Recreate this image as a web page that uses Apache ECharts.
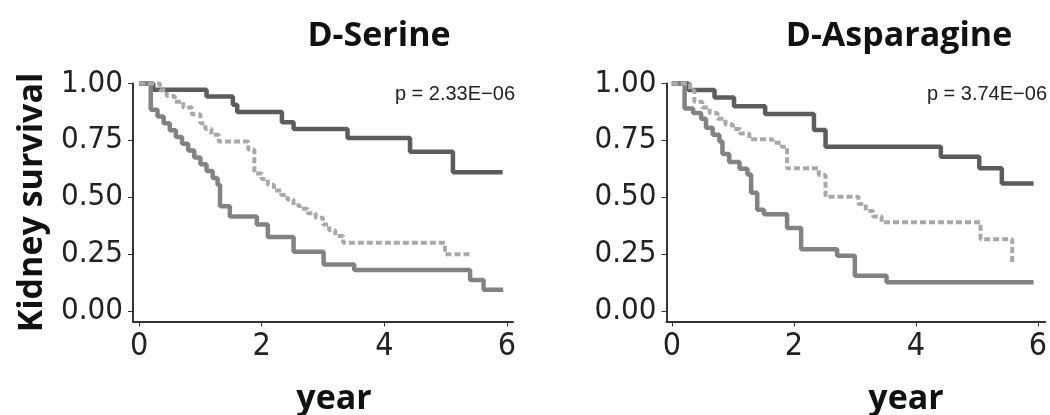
<!DOCTYPE html>
<html>
<head>
<meta charset="utf-8">
<script src="https://cdn.jsdelivr.net/npm/echarts@6/dist/echarts.min.js"></script>
<style>
  html, body { margin: 0; padding: 0; background: #fff; }
  #chart { width: 1050px; height: 415px; }
</style>
</head>
<body>
<div id="chart"></div>
<script>
// 刻度
const xTicks = [0, 2, 4, 6];
const yTicks = [0, 0.25, 0.5, 0.75, 1];

// D-Serine：三组生存曲线（时间 / 生存率）
const serineHighT = [0, 0.23, 1.10, 1.53, 1.60, 2.33, 2.52, 3.40, 4.42, 5.12, 5.93];
const serineHighS = [1, 0.972, 0.943, 0.907, 0.875, 0.83, 0.80, 0.76, 0.70, 0.61, 0.61];
const serineLowT = [0, 0.19, 0.30, 0.40, 0.50, 0.60, 0.70, 0.80, 0.90, 1.00, 1.10, 1.20, 1.28, 1.32, 1.48, 1.92, 2.10, 2.52, 3.01, 3.51, 5.40, 5.62, 5.94];
const serineLowS = [1, 0.885, 0.855, 0.825, 0.795, 0.765, 0.735, 0.705, 0.675, 0.645, 0.615, 0.585, 0.555, 0.46, 0.415, 0.38, 0.325, 0.26, 0.205, 0.18, 0.136, 0.094, 0.094];
const serineMidT = [0, 0.34, 0.45, 0.58, 0.72, 0.86, 1.0, 1.08, 1.18, 1.30, 1.78, 1.88, 2.0, 2.1, 2.2, 2.32, 2.42, 2.52, 2.62, 2.75, 2.88, 3.0, 3.1, 3.2, 3.33, 4.99, 5.43];
const serineMidS = [1, 0.97, 0.945, 0.92, 0.895, 0.865, 0.825, 0.80, 0.775, 0.745, 0.71, 0.605, 0.58, 0.555, 0.53, 0.51, 0.49, 0.465, 0.45, 0.43, 0.41, 0.38, 0.355, 0.33, 0.30, 0.25, 0.25];

// D-Asparagine
const asnHighT = [0, 0.27, 0.70, 1.02, 1.53, 2.33, 2.52, 4.41, 5.04, 5.41, 5.93];
const asnHighS = [1, 0.971, 0.938, 0.90, 0.866, 0.796, 0.722, 0.678, 0.627, 0.561, 0.561];
const asnLowT = [0, 0.21, 0.35, 0.48, 0.56, 0.67, 0.78, 0.83, 0.94, 1.11, 1.24, 1.30, 1.40, 1.51, 1.89, 2.12, 2.71, 3.00, 3.52, 5.93];
const asnLowS = [1, 0.89, 0.87, 0.845, 0.805, 0.775, 0.745, 0.69, 0.655, 0.625, 0.60, 0.52, 0.445, 0.425, 0.365, 0.272, 0.243, 0.155, 0.126, 0.126];
const asnMidT = [0, 0.30, 0.37, 0.50, 0.62, 0.75, 0.88, 1.00, 1.12, 1.27, 1.65, 1.80, 1.89, 2.41, 2.52, 3.06, 3.18, 3.30, 3.44, 5.06, 5.58];
const asnMidS = [1, 0.97, 0.92, 0.895, 0.87, 0.845, 0.82, 0.80, 0.78, 0.755, 0.74, 0.722, 0.627, 0.598, 0.502, 0.47, 0.44, 0.415, 0.39, 0.316, 0.215];

const chart = echarts.init(document.getElementById('chart'));

const tickFont = '"Liberation Sans Narrow", "DejaVu Sans Condensed", sans-serif';
const boldFont = '"Open Sans", sans-serif';
const axisColor = '#333';

function pairs(t, s) {
  return t.map((x, i) => [x, s[i]]);
}

function xAxisOf(gridIndex, min, max) {
  return {
    type: 'value', gridIndex, min, max,
    splitLine: { show: false },
    axisLine: { onZero: false, lineStyle: { color: axisColor, width: 2 } },
    axisTick: { customValues: xTicks, length: 5, lineStyle: { color: axisColor, width: 1 } },
    axisLabel: { customValues: xTicks, margin: 9, fontSize: 32, fontFamily: tickFont, color: '#222' }
  };
}

function yAxisOf(gridIndex, name) {
  return {
    type: 'value', gridIndex, min: -0.046, max: 1,
    name: name || '',
    nameLocation: 'middle',
    nameRotate: 90,
    nameGap: 84,
    nameTextStyle: { fontSize: 34, fontWeight: 'bold', fontFamily: boldFont, color: '#111' },
    splitLine: { show: false },
    axisLine: { onZero: false, lineStyle: { color: axisColor, width: 2 } },
    axisTick: { customValues: yTicks, length: 5, lineStyle: { color: axisColor, width: 1 } },
    axisLabel: {
      customValues: yTicks, margin: 10, fontSize: 31, fontFamily: tickFont, color: '#222',
      formatter: v => v.toFixed(2)
    }
  };
}

// 三种线型：深灰实线 / 中灰实线 / 浅灰虚线
function curve(idx, t, s, kind) {
  const style = {
    high: { color: '#5c5c5c', width: 4.5, type: 'solid' },
    low: { color: '#828282', width: 4.5, type: 'solid' },
    mid: { color: '#a8a8a8', width: 4, type: [6, 3] }
  }[kind];
  return {
    type: 'line', step: 'end', xAxisIndex: idx, yAxisIndex: idx,
    data: pairs(t, s), showSymbol: false, clip: false,
    lineStyle: style, z: kind === 'mid' ? 3 : 2
  };
}

const titleStyle = { fontSize: 34, fontWeight: 'bold', fontFamily: boldFont, color: '#111' };
const pStyle = { fontSize: 20, fontWeight: 'normal', fontFamily: '"Liberation Sans", sans-serif', color: '#222' };

chart.setOption({
  animation: false,
  backgroundColor: '#fff',
  title: [
    { text: 'D-Serine', left: 374, top: 14, textAlign: 'center', textStyle: titleStyle },
    { text: 'D-Asparagine', left: 894, top: 14, textAlign: 'center', textStyle: titleStyle },
    { text: 'year', left: 329, top: 377, textAlign: 'center', textStyle: titleStyle },
    { text: 'year', left: 901, top: 377, textAlign: 'center', textStyle: titleStyle },
    { text: 'p = 2.33E\u221206', left: 510, top: 79, textAlign: 'right', textStyle: pStyle },
    { text: 'p = 3.74E\u221206', left: 1042, top: 79, textAlign: 'right', textStyle: pStyle }
  ],
  grid: [
    { left: 133, top: 83.5, width: 380, height: 238 },
    { left: 666.5, top: 83.5, width: 381.5, height: 238 }
  ],
  xAxis: [xAxisOf(0, -0.1, 6.1), xAxisOf(1, -0.087, 6.12)],
  yAxis: [yAxisOf(0, 'Kidney survival'), yAxisOf(1)],
  series: [
    curve(0, serineHighT, serineHighS, 'high'),
    curve(0, serineLowT, serineLowS, 'low'),
    curve(0, serineMidT, serineMidS, 'mid'),
    curve(1, asnHighT, asnHighS, 'high'),
    curve(1, asnLowT, asnLowS, 'low'),
    curve(1, asnMidT, asnMidS, 'mid')
  ]
});
</script>
</body>
</html>
